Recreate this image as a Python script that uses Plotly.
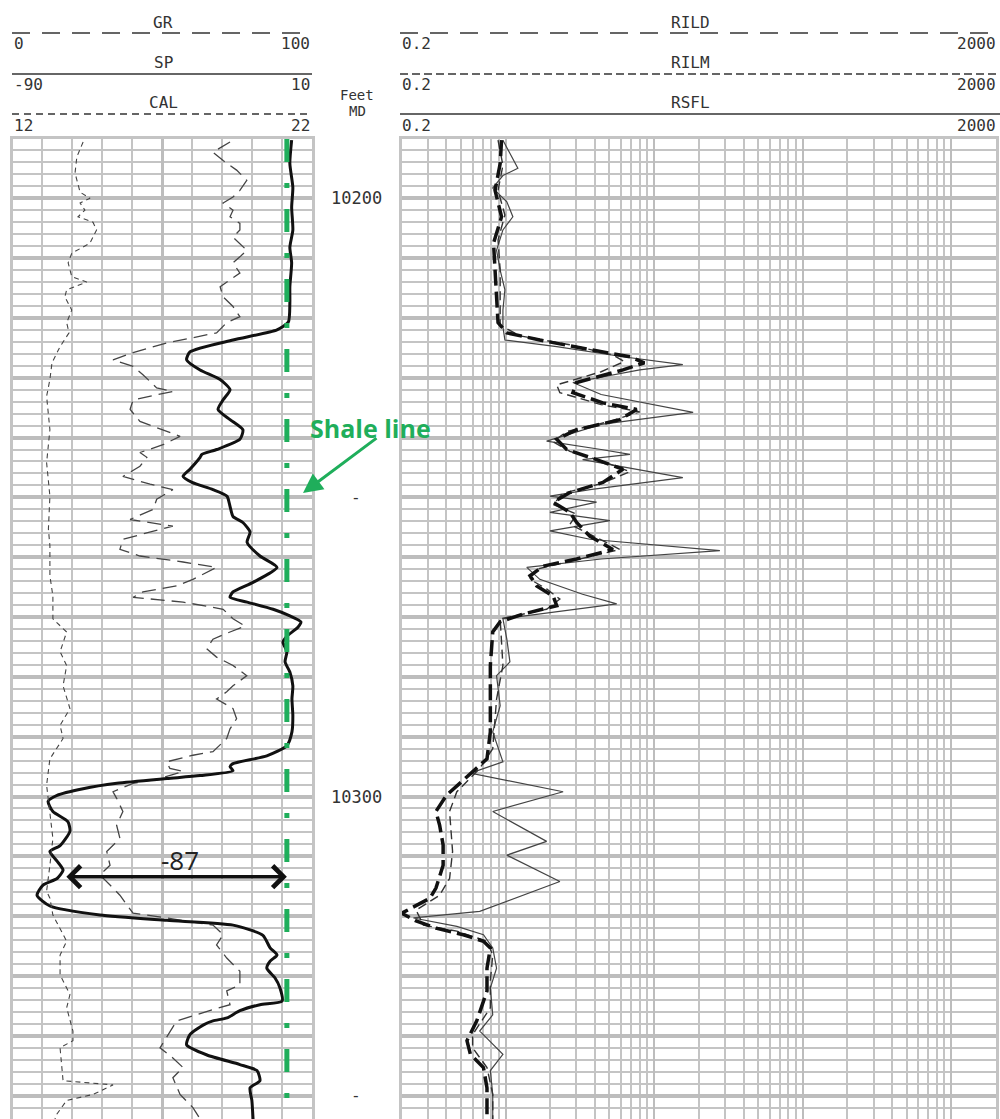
import math
import plotly.graph_objects as go

# ---------------- data (depth in ft MD) ----------------
sp_depth = [10190.3, 10194.2, 10198.2, 10201.5, 10205.3, 10208.2, 10210.8, 10214.8, 10217.5, 10220.7,
            10222.0, 10223.7, 10225.7, 10227.0, 10228.7, 10230.3, 10232.0, 10233.7, 10235.3, 10237.0,
            10238.7, 10240.3, 10242.0, 10242.8, 10243.3, 10245.3, 10246.5, 10247.5, 10248.7, 10249.8,
            10251.5, 10253.2, 10254.2, 10255.8, 10257.5, 10259.8, 10261.7, 10264.2, 10265.8, 10266.7,
            10267.5, 10268.7, 10269.8, 10270.8, 10271.7, 10273.2, 10274.2, 10275.8, 10277.5, 10279.2,
            10281.5, 10283.7, 10286.5, 10289.2, 10291.5, 10293.2, 10294.5, 10295.0, 10295.7, 10296.5,
            10297.0, 10297.8, 10298.7, 10299.8, 10300.8, 10302.5, 10304.2, 10305.8, 10308.2, 10309.2,
            10310.8, 10312.3, 10313.7, 10314.8, 10316.5, 10318.3, 10319.8, 10320.7, 10321.5, 10323.2,
            10325.3, 10326.5, 10327.5, 10328.7, 10330.3, 10332.0, 10334.2, 10334.8, 10335.8, 10337.0,
            10337.5, 10338.2, 10339.8, 10341.5, 10343.2, 10344.8, 10345.8, 10347.5, 10348.7, 10350.8,
            10353.9]
sp_mv = [3.3, 2.7, 3.7, 3.3, 3.7, 2.7, 3.3, 2.7, 2.7, 2.2,
         -1.6, -16.3, -30.7, -31.8, -27.3, -20.6, -17.3, -19.6, -21.3, -17.3,
         -13.0, -14.0, -21.7, -26.7, -27.3, -30.7, -33.0, -30.0, -23.0, -18.3,
         -17.3, -16.3, -13.0, -10.6, -11.6, -7.3, -1.6, -9.6, -16.3, -17.3,
         -11.6, -2.9, 2.7, 6.4, 5.4, 1.7, 0.4, 1.7, 1.1, 2.7,
         3.7, 3.4, 3.7, 3.4, 1.7, -5.0, -16.3, -17.3, -16.3, -27.3,
         -38.4, -55.1, -66.4, -75.1, -78.1, -76.5, -71.5, -70.8, -74.1, -77.5,
         -75.1, -73.1, -75.1, -79.8, -81.8, -77.5, -60.8, -38.4, -16.3, -6.3,
         -3.9, -1.6, -3.9, -5.0, -2.3, -0.6, 0.1, -7.3, -14.0, -18.3,
         -23.0, -26.3, -30.7, -31.8, -25.0, -14.0, -8.3, -7.3, -10.6, -10.0,
         -9.6]

gr_depth = [10190.6, 10192.3, 10193.7, 10195.3, 10197.0, 10198.7, 10199.8, 10200.8, 10202.0, 10203.1,
            10204.2, 10205.3, 10206.5, 10208.7, 10209.8, 10210.8, 10212.5, 10213.7, 10214.8, 10216.5,
            10218.1, 10219.8, 10220.8, 10222.5, 10224.2, 10225.8, 10227.0, 10228.1, 10229.5, 10231.7,
            10232.3, 10233.7, 10235.3, 10237.3, 10239.8, 10241.2, 10242.5, 10243.3, 10244.8, 10246.5,
            10247.8, 10248.7, 10250.3, 10252.0, 10253.7, 10254.8, 10256.2, 10257.0, 10258.7, 10259.8,
            10260.8, 10261.7, 10263.7, 10264.8, 10265.8, 10266.7, 10267.5, 10268.7, 10270.3, 10271.5,
            10272.5, 10273.7, 10275.3, 10276.7, 10278.1, 10279.8, 10281.5, 10282.5, 10283.7, 10285.3,
            10287.0, 10288.7, 10290.3, 10292.5, 10293.1, 10294.2, 10295.3, 10295.8, 10297.0, 10297.8,
            10299.2, 10300.3, 10302.5, 10304.8, 10307.0, 10309.2, 10311.5, 10313.1, 10314.8, 10316.5,
            10318.1, 10319.5, 10320.3, 10321.5, 10323.1, 10324.8, 10327.0, 10329.2, 10331.5, 10332.5,
            10334.8, 10335.6, 10337.5, 10340.3, 10342.0, 10343.7, 10345.3, 10347.0, 10349.8, 10352.0,
            10353.9]
gr_api = [72.7, 67.0, 70.4, 74.9, 78.3, 76.0, 73.7, 70.4, 73.7, 72.7,
          76.0, 76.0, 73.7, 78.3, 76.0, 73.7, 76.0, 72.7, 69.4, 70.4,
          73.7, 76.0, 71.6, 68.2, 51.5, 40.3, 33.6, 40.3, 43.6, 48.2,
          53.6, 40.3, 39.3, 42.6, 56.0, 50.3, 42.6, 44.9, 42.6, 36.9,
          46.0, 53.6, 48.2, 47.0, 39.3, 53.6, 42.6, 36.9, 35.9, 42.6,
          57.0, 68.2, 60.3, 54.9, 43.6, 40.3, 57.0, 70.4, 73.7, 77.7,
          72.7, 67.0, 64.9, 68.2, 73.7, 78.3, 73.7, 71.6, 68.2, 73.7,
          74.9, 72.7, 71.6, 67.0, 60.3, 51.5, 52.6, 57.0, 49.3, 40.3,
          33.6, 34.8, 36.9, 34.8, 35.9, 31.5, 32.6, 29.2, 32.6, 35.9,
          38.2, 40.3, 51.5, 67.0, 70.4, 68.2, 71.6, 76.0, 76.0, 71.6,
          72.7, 67.0, 54.9, 51.5, 49.3, 53.6, 57.0, 53.6, 56.0, 60.3,
          62.7]

cal_depth = [10190.6, 10193.1, 10195.8, 10199.0, 10200.0, 10200.8, 10202.0, 10203.1, 10204.0, 10205.3,
             10207.5, 10209.2, 10210.8, 10213.1, 10214.0, 10215.3, 10216.5, 10218.7, 10220.8, 10222.5,
             10224.8, 10227.5, 10230.3, 10233.1, 10238.7, 10244.2, 10249.8, 10255.3, 10258.1, 10263.1,
             10266.5, 10270.3, 10272.5, 10275.8, 10278.1, 10281.5, 10285.3, 10288.1, 10290.3, 10293.7,
             10298.1, 10302.5, 10307.0, 10311.5, 10315.8, 10317.0, 10319.8, 10324.2, 10326.5, 10329.8,
             10333.1, 10335.3, 10339.2, 10340.8, 10342.0, 10347.5, 10348.2, 10349.8, 10350.8, 10353.1,
             10353.9]
cal_in = [14.36, 14.15, 14.09, 14.26, 14.59, 14.26, 14.42, 14.19, 14.69, 14.81,
          14.59, 13.98, 13.86, 13.98, 14.48, 13.81, 13.75, 13.98, 13.81, 13.89,
          13.59, 13.32, 13.25, 13.14, 13.25, 13.14, 13.25, 13.20, 13.25, 13.25,
          13.35, 13.35, 13.81, 13.59, 13.81, 13.69, 13.92, 13.59, 13.69, 13.25,
          13.14, 13.25, 13.35, 13.25, 13.14, 13.25, 13.35, 13.81, 13.59, 13.59,
          13.92, 13.81, 14.02, 14.02, 13.59, 13.69, 15.36, 14.69, 13.81, 13.48,
          13.42]

rild_depth = [10190.3, 10194.2, 10198.7, 10203.1, 10207.5, 10212.0, 10216.5, 10220.8, 10222.5, 10223.7,
              10225.3, 10226.5, 10227.5, 10228.7, 10230.8, 10232.5, 10234.2, 10235.3, 10237.0, 10238.7,
              10240.3, 10242.0, 10243.7, 10245.3, 10247.5, 10249.2, 10250.8, 10252.5, 10254.2, 10256.5,
              10258.7, 10260.3, 10261.5, 10263.1, 10264.8, 10266.5, 10268.1, 10269.5, 10270.8, 10272.5,
              10278.1, 10283.7, 10289.2, 10293.7, 10295.8, 10299.8, 10302.5, 10304.8, 10308.1, 10311.5,
              10315.3, 10317.0, 10319.5, 10320.8, 10322.0, 10323.1, 10324.2, 10325.3, 10328.7, 10332.5,
              10337.5, 10340.8, 10343.1, 10345.3, 10348.7, 10353.9]
rild = [0.94, 0.92, 0.85, 0.94, 0.83, 0.85, 0.87, 0.89, 1.02, 1.70,
        3.70, 6.88, 8.6, 6.17, 3.01, 2.84, 4.52, 7.63, 5.89, 3.01,
        2.21, 2.58, 4.10, 6.17, 4.52, 2.71, 2.09, 2.71, 3.01, 3.70,
        5.28, 3.01, 1.79, 1.46, 1.62, 2.09, 2.21, 1.31, 0.92, 0.82,
        0.79, 0.79, 0.79, 0.75, 0.60, 0.40, 0.34, 0.36, 0.38, 0.38,
        0.34, 0.31, 0.20, 0.25, 0.34, 0.52, 0.71, 0.79, 0.75, 0.75,
        0.64, 0.55, 0.58, 0.71, 0.75, 0.75]

rilm_depth = [10190.3, 10194.5, 10198.7, 10202.8, 10207.0, 10212.0, 10217.0, 10221.2, 10223.0, 10224.5,
              10226.2, 10227.3, 10229.0, 10231.2, 10232.5, 10234.5, 10235.7, 10237.3, 10239.0, 10240.7,
              10242.3, 10244.0, 10245.7, 10247.7, 10249.3, 10251.2, 10252.8, 10254.5, 10256.7, 10258.7,
              10260.7, 10262.0, 10263.7, 10265.3, 10267.0, 10268.7, 10270.3, 10278.1, 10283.7, 10292.0,
              10295.3, 10299.2, 10302.5, 10309.2, 10313.7, 10316.5, 10319.0, 10321.5, 10322.5, 10324.2,
              10326.5, 10330.8, 10335.3, 10339.8, 10342.0, 10345.3, 10349.8, 10353.9]
rilm = [0.89, 0.96, 0.89, 0.99, 0.89, 0.92, 0.92, 0.92, 1.25, 2.71,
        5.28, 6.3, 4.4, 2.21, 2.32, 4.4, 8.0, 5.04, 2.58, 2.09,
        2.71, 4.52, 6.88, 4.4, 2.44, 2.09, 3.01, 2.71, 4.10, 5.89,
        2.71, 1.62, 1.46, 1.89, 2.32, 1.89, 0.92, 0.96, 0.87, 0.82,
        0.67, 0.47, 0.42, 0.44, 0.42, 0.36, 0.25, 0.28, 0.47, 0.75,
        0.82, 0.79, 0.79, 0.60, 0.60, 0.75, 0.82, 0.82]

rsfl_depth = [10190.3, 10192.0, 10195.0, 10196.2, 10198.3, 10200.6, 10203.1, 10205.3, 10208.7, 10212.0,
              10215.3, 10218.7, 10221.5, 10223.7, 10224.8, 10226.5, 10227.8, 10228.7, 10230.8, 10232.8,
              10235.8, 10237.8, 10240.6, 10242.0, 10242.8, 10243.7, 10246.7, 10248.7, 10249.8, 10250.8,
              10252.5, 10253.9, 10255.6, 10257.0, 10258.9, 10260.3, 10261.7, 10263.7, 10266.2, 10267.8,
              10270.3, 10273.7, 10277.5, 10279.8, 10284.8, 10289.2, 10294.2, 10296.1, 10299.2, 10302.5,
              10307.5, 10309.8, 10312.0, 10314.2, 10319.2, 10320.3, 10321.7, 10323.1, 10325.3, 10328.7,
              10332.0, 10336.5, 10339.2, 10343.1, 10345.8, 10349.8, 10353.9]
rsfl = [0.96, 1.04, 1.21, 0.96, 0.82, 1.02, 1.12, 0.96, 0.87, 0.92,
        0.99, 0.96, 0.96, 0.99, 2.21, 6.17, 15.6, 8.0, 2.84, 4.4,
        18.3, 4.4, 1.89, 4.4, 6.88, 3.3, 15.6, 3.7, 1.99, 4.10,
        1.99, 5.04, 1.99, 3.7, 27.7, 4.4, 1.39, 1.70, 3.3, 5.60,
        0.96, 1.02, 1.07, 0.87, 0.92, 0.82, 0.96, 0.58, 2.44, 0.82,
        1.89, 1.02, 1.53, 2.32, 0.67, 0.24, 0.47, 0.71, 0.82, 0.87,
        0.79, 0.82, 0.67, 0.96, 0.79, 0.82, 0.82]

depth_labels = [10200, 10300]
depth_dashes = [10250, 10350]
DEPTH_TOP, DEPTH_BOT = 10190.1, 10353.9
SHALE_SP = 1.7          # shale baseline, mV
ARROW_DEPTH = 10313.4
ARROW_LEFT_SP = -72.5

# ---------------- layout helpers ----------------
W, H = 1000, 1119
def px(x): return x / W
def py(y): return 1 - y / H

GRID = "#c4c4c4"
INK = "#333333"
GREEN = "#1fae5b"
MONO = "DejaVu Sans Mono"
ydom = [0, py(139)]

fig = go.Figure()

# left track curves
fig.add_trace(go.Scatter(x=cal_in, y=cal_depth, xaxis="x3", yaxis="y", mode="lines",
                         line=dict(color="#444444", width=1.1, dash="5px,4px")))
fig.add_trace(go.Scatter(x=gr_api, y=gr_depth, xaxis="x", yaxis="y", mode="lines",
                         line=dict(color="#444444", width=1.3, dash="14px,7px")))
fig.add_trace(go.Scatter(x=sp_mv, y=sp_depth, xaxis="x2", yaxis="y", mode="lines",
                         line=dict(color="#111111", width=3, shape="spline", smoothing=0.6)))
# shale baseline
fig.add_trace(go.Scatter(x=[SHALE_SP, SHALE_SP], y=[DEPTH_TOP, DEPTH_BOT], xaxis="x2", yaxis="y",
                         mode="lines", line=dict(color=GREEN, width=5, dash="23px,21px,5px,21px")))

# right track curves
fig.add_trace(go.Scatter(x=rsfl, y=rsfl_depth, xaxis="x4", yaxis="y2", mode="lines",
                         line=dict(color="#444444", width=1.2)))
fig.add_trace(go.Scatter(x=rilm, y=rilm_depth, xaxis="x4", yaxis="y2", mode="lines",
                         line=dict(color="#333333", width=1.4, dash="9px,5px")))
fig.add_trace(go.Scatter(x=rild, y=rild_depth, xaxis="x4", yaxis="y2", mode="lines",
                         line=dict(color="#111111", width=3.5, dash="16px,6px")))

yax = dict(domain=ydom, range=[DEPTH_BOT, DEPTH_TOP], showticklabels=False, ticks="",
           zeroline=False, showline=True, mirror=True, linecolor=GRID, linewidth=3,
           showgrid=True, tick0=10190, dtick=10, gridcolor="#bdbdbd", gridwidth=4,
           minor=dict(showgrid=True, tick0=10190, dtick=2, gridcolor=GRID, gridwidth=1.5))

log_major = [1, 10, 100, 1000]
log_minor = [k * 10 ** e for e in range(-1, 4) for k in range(2, 10)
             if 0.2 <= k * 10 ** e <= 2000 and k * 10 ** e not in (0.2, 2000)]

fig.update_layout(
    width=W, height=H, margin=dict(l=0, r=0, t=0, b=0),
    paper_bgcolor="white", plot_bgcolor="white", showlegend=False,
    xaxis=dict(domain=[px(12.5), px(311.7)], range=[0, 100], anchor="y",
               showticklabels=False, ticks="", zeroline=False,
               showline=True, mirror=True, linecolor=GRID, linewidth=3,
               tickvals=[50], showgrid=True, gridcolor="#bdbdbd", gridwidth=3,
               minor=dict(tickvals=[10, 20, 30, 40, 60, 70, 80, 90], showgrid=True,
                          gridcolor=GRID, gridwidth=2)),
    xaxis2=dict(overlaying="x", range=[-90, 10], anchor="y", visible=False),
    xaxis3=dict(overlaying="x", range=[12, 22], anchor="y", visible=False),
    xaxis4=dict(domain=[px(401.7), px(996)], type="log",
                range=[math.log10(0.2), math.log10(2000)], anchor="y2",
                showticklabels=False, ticks="", zeroline=False,
                showline=True, mirror=True, linecolor=GRID, linewidth=3,
                tickvals=log_major, showgrid=True, gridcolor="#bdbdbd", gridwidth=2.2,
                minor=dict(tickvals=log_minor, showgrid=True, gridcolor=GRID, gridwidth=1.8)),
    yaxis=dict(anchor="x", **yax),
    yaxis2=dict(anchor="x4", matches="y", **yax),
)

# ---------------- headers ----------------
def hline(x0, x1, y, dash):
    fig.add_shape(type="line", xref="paper", yref="paper", x0=px(x0), x1=px(x1),
                  y0=py(y), y1=py(y), line=dict(color=INK, width=1.5, dash=dash))

def txt(x, y, s, anchor="center", size=16, color=INK, family=MONO):
    fig.add_annotation(xref="paper", yref="paper", x=px(x), y=py(y), text=s, showarrow=False,
                       xanchor=anchor, yanchor="middle", font=dict(family=family, size=size, color=color))

left_hdr = [("GR", "0", "100", 22, 33, "18px,12px"),
            ("SP", "-90", "10", 62, 74, "solid"),
            ("CAL", "12", "22", 102, 114, "7px,5px")]
for name, lo, hi, ty, ly, dash in left_hdr:
    txt(163, ty, name)
    hline(12, 312, ly, dash)
    txt(12, ly + 11, lo, "left")
    txt(312, ly + 11, hi, "right")

right_hdr = [("RILD", "0.2", "2000", 22, 33, "18px,12px"),
             ("RILM", "0.2", "2000", 62, 74, "8px,4px"),
             ("RSFL", "0.2", "2000", 102, 114, "solid")]
for name, lo, hi, ty, ly, dash in right_hdr:
    txt(690, ty, name)
    hline(400, 1000, ly, dash)
    txt(400, ly + 11, lo, "left")
    txt(998, ly + 11, hi, "right")

# depth column
txt(357, 95, "Feet", size=14)
txt(357, 111, "MD", size=14)
for d in depth_labels:
    fig.add_annotation(xref="paper", yref="y", x=px(356), y=d, text=str(d), showarrow=False,
                       xanchor="center", yanchor="middle", font=dict(family=MONO, size=17, color=INK))
for d in depth_dashes:
    fig.add_annotation(xref="paper", yref="y", x=px(356), y=d, text="-", showarrow=False,
                       xanchor="center", yanchor="middle", font=dict(family=MONO, size=16, color=INK))

# SP deflection arrow
fig.add_annotation(xref="x2", yref="y", x=SHALE_SP, y=ARROW_DEPTH,
                   axref="x2", ayref="y", ax=ARROW_LEFT_SP, ay=ARROW_DEPTH, text="",
                   showarrow=True, arrowhead=4, startarrowhead=4, arrowside="end+start",
                   arrowwidth=3.5, arrowsize=1.2, startarrowsize=1.2, arrowcolor="#111111")
txt(180, 860, "-87", size=26, color="#222222", family="Open Sans")

# shale line label and arrow
txt(370, 428, "<b>Shale line</b>", size=25, color=GREEN, family="Open Sans")
fig.add_annotation(xref="paper", yref="paper", x=px(303), y=py(493), ax=75, ay=-56,
                   axref="pixel", ayref="pixel", text="", showarrow=True, arrowhead=2,
                   arrowwidth=3, arrowsize=1.3, arrowcolor=GREEN)

fig.write_html("out.html")
